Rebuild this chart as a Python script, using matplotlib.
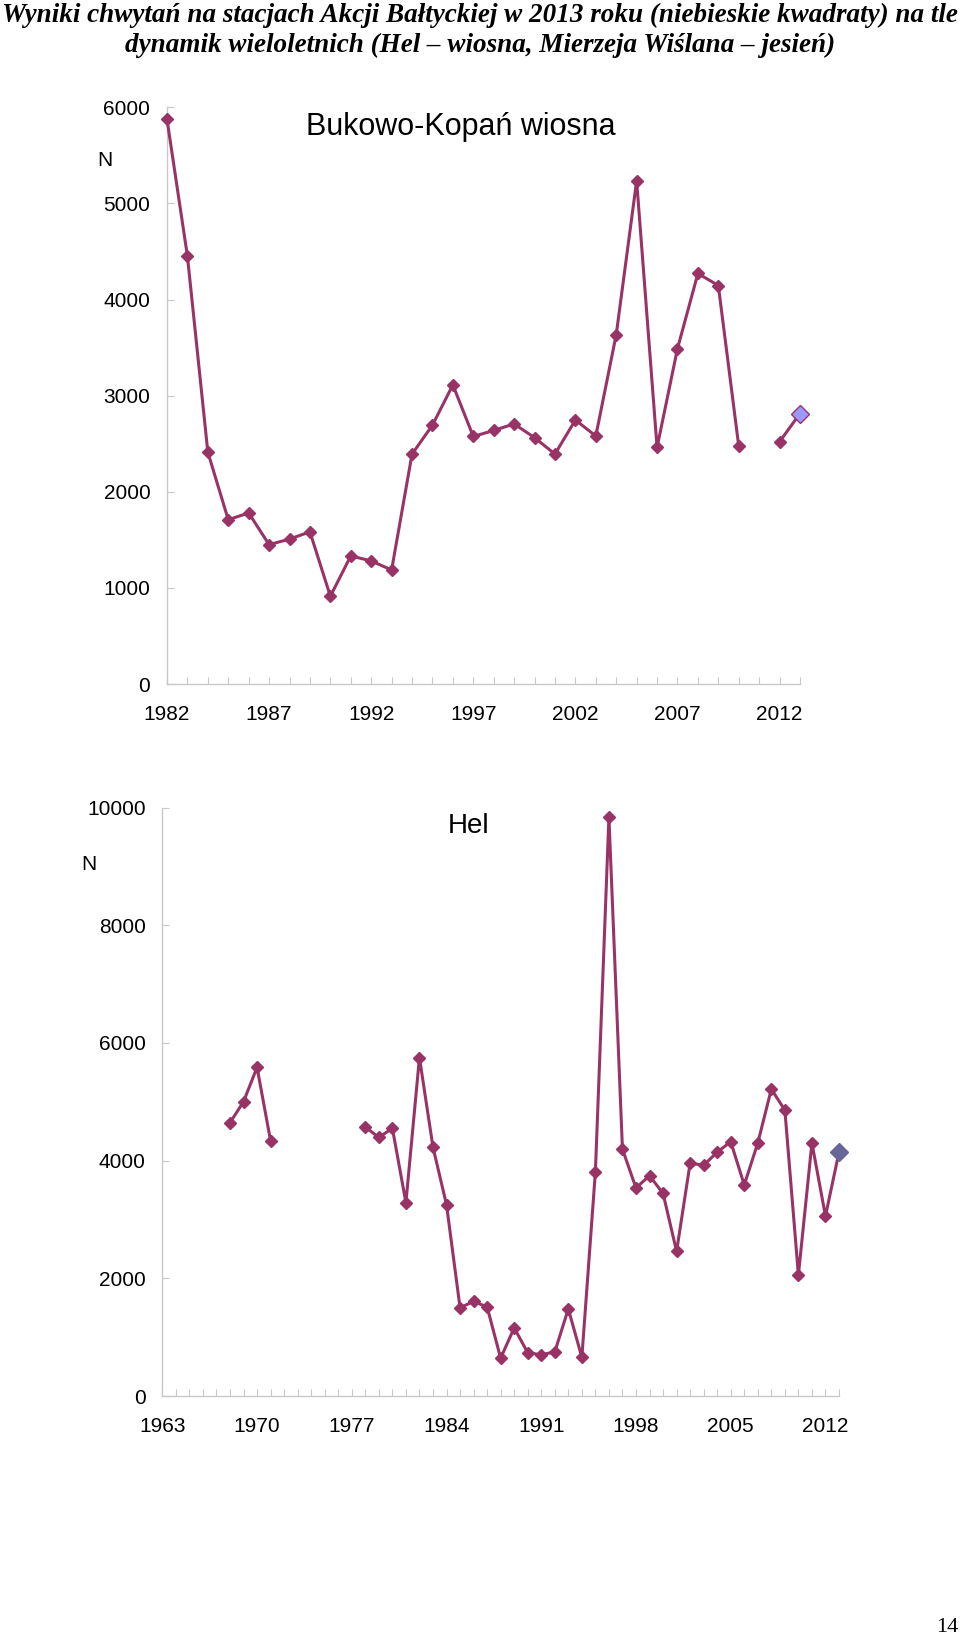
import matplotlib
matplotlib.use("Agg")
import matplotlib.pyplot as plt
import numpy as np

# dane - Bukowo-Kopań wiosna (1982-2013)
lata_bk = list(range(1982, 2014))
n_bk = [5875, 4452, 2412, 1709, 1780, 1450, 1508, 1583, 913, 1332, 1281, 1186,
        2392, 2693, 3112, 2575, 2638, 2706, 2563, 2392, 2747, 2580, 3635, 5235,
        2462, 3489, 4271, 4146, 2475, np.nan, 2521, 2814]

# dane - Hel (1963-2013)
lata_hel = list(range(1963, 2014))
n_hel = [np.nan, np.nan, np.nan, np.nan, np.nan,
         4643, 5000, 5585, 4336,
         np.nan, np.nan, np.nan, np.nan, np.nan, np.nan,
         4571, 4393, 4550, 3286, 5750, 4229, 3250, 1500, 1607, 1514, 643, 1157,
         736, 700, 750, 1479, 657, 3807, 9835, 4193, 3536, 3743, 3443, 2457,
         3957, 3921, 4143, 4321, 3586, 4300, 5214, 4857, 2057, 4300, 3057, 4143]

tytul = ("Wyniki chwytań na stacjach Akcji Bałtyckiej w 2013 roku (niebieskie kwadraty) na tle\n"
         "dynamik wieloletnich (Hel – wiosna, Mierzeja Wiślana – jesień)")

plt.rcParams['font.family'] = ['Liberation Sans', 'DejaVu Sans']

W, H = 960, 1638
fig = plt.figure(figsize=(W / 100, H / 100), dpi=100)

kolor = '#993366'
szary = '#c8c8c8'


def rysuj(ax, lata, wart, kolor_2013, brzeg_2013, ymax, ystep, co_ile, nazwa, nazwa_xy, nazwa_size):
    ax.plot(lata, wart, '-', color=kolor, lw=2.2, marker='D', ms=6.3,
            mfc=kolor, mec=kolor, zorder=3)
    ax.plot(lata[-1], wart[-1], 'D', ms=9, mfc=kolor_2013, mec=brzeg_2013, mew=1, zorder=4)
    ax.set_xlim(lata[0], lata[-1])
    ax.set_ylim(0, ymax)
    ax.set_yticks(range(0, ymax + 1, ystep))
    ax.set_xticks(lata)
    ax.set_xticklabels([str(r) if (r - lata[0]) % co_ile == 0 else '' for r in lata])
    for s in ['top', 'right']:
        ax.spines[s].set_visible(False)
    for s in ['left', 'bottom']:
        ax.spines[s].set_color(szary)
        ax.spines[s].set_linewidth(1)
    ax.tick_params(axis='x', direction='in', length=5, color=szary, labelsize=15, pad=15)
    ax.tick_params(axis='y', direction='in', length=5, color=szary, labelsize=15, pad=12)
    for l in ax.get_lines():
        l.set_clip_on(False)
    ax.text(nazwa_xy[0], nazwa_xy[1], nazwa, transform=None, fontsize=nazwa_size,
            ha='center', va='center')


ax1 = fig.add_axes([167 / W, 1 - 684 / H, (800 - 167) / W, (684 - 107.3) / H])
rysuj(ax1, lata_bk, n_bk, '#9999ff', kolor, 6000, 1000, 5, 'Bukowo-Kopań wiosna', (461, H - 127), 22)

ax2 = fig.add_axes([162.3 / W, 1 - 1396 / H, (839 - 162.3) / W, (1396 - 807.5) / H])
rysuj(ax2, lata_hel, n_hel, '#666699', '#666699', 10000, 2000, 7, 'Hel', (469, H - 826), 20)

fig.text(105 / W, 1 - 160 / H, 'N', fontsize=15, ha='center', va='center')
fig.text(89 / W, 1 - 864 / H, 'N', fontsize=15, ha='center', va='center')

fig.text(0.5, 1 - 30 / H, tytul, family='Liberation Serif', fontweight='bold', fontstyle='italic',
         fontsize=19.5, ha='center', va='center', linespacing=1.25)
fig.text(958 / W, 1 - 1627 / H, '14', family='Liberation Serif', fontsize=16, ha='right', va='center')

fig.savefig('out.png', dpi=100)
